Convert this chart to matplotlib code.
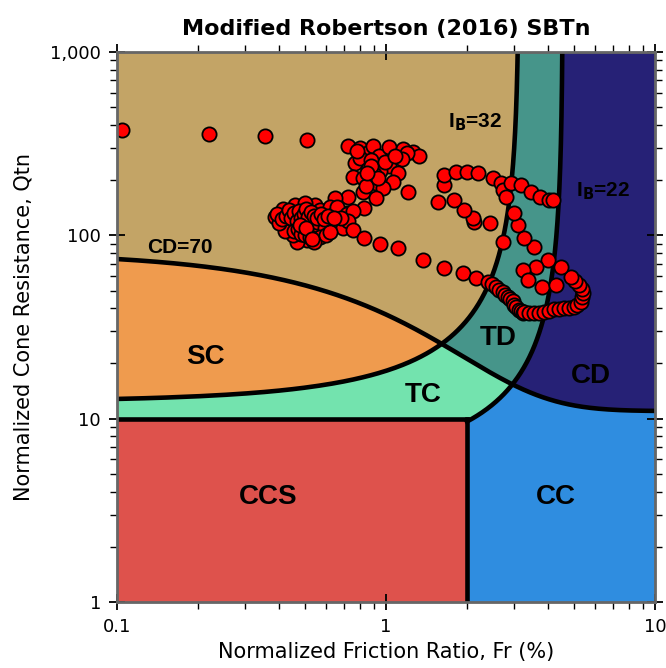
import numpy as np
import matplotlib.pyplot as plt
from matplotlib.colors import ListedColormap
from matplotlib.ticker import FuncFormatter, LogLocator, NullFormatter

# ----------------------------------------------------------------
# Chart boundaries (Robertson 2016)

ib_upper = 32      # sand-like / transitional
ib_lower = 22      # transitional / clay-like
cd_limit = 70      # contractive / dilative
q_ccs = 10         # top of sensitive zone
fr_ccs = 2.0       # sensitive / contractive clay split

zone_names = ['SD', 'SC', 'TD', 'TC', 'CD', 'CC', 'CCS']
zone_colors = ['#c3a466', '#ef9b4e', '#46958a', '#73e3ae', '#262176', '#2f8de0', '#de524c']

# ----------------------------------------------------------------
# CPT data, normalized friction ratio (%) and cone resistance

fr = [0.104, 0.220, 0.356, 0.510,
      0.725, 0.797, 0.861, 0.898, 0.938, 1.022, 1.152, 1.256, 1.321, 1.200,
      0.770, 0.800, 0.880, 1.022, 1.150, 1.104, 1.066, 1.203, 0.860, 0.950,
      0.900, 0.757, 0.818, 0.876, 0.914, 0.971, 0.818, 0.914, 0.825, 0.725,
      0.648, 0.719, 0.637, 0.840, 0.880, 0.930, 0.990, 1.080, 0.780, 0.850,
      0.405, 0.388, 0.415, 0.430, 0.441, 0.452, 0.441, 0.460, 0.468, 0.472,
      0.480, 0.493, 0.493, 0.510, 0.510, 0.523, 0.535, 0.546, 0.555, 0.570,
      0.585, 0.595, 0.570, 0.621, 0.630, 0.648, 0.660, 0.690, 0.719, 0.757,
      0.725, 0.468, 0.452, 0.430, 0.500, 0.540, 0.600, 0.620, 0.680, 0.420,
      0.400, 0.395, 0.410, 0.425, 0.435, 0.445, 0.455, 0.465, 0.475, 0.485,
      0.495, 0.505, 0.515, 0.525, 0.540, 0.555, 0.575, 0.590, 0.610, 0.640,
      0.455, 0.470, 0.485, 0.500, 0.520, 0.480, 0.505, 0.530,
      0.757, 0.825, 0.946, 1.104, 1.368, 1.637, 1.927, 2.154, 2.388, 2.470,
      2.558, 2.640, 2.716, 2.780, 2.835, 2.900, 2.960, 2.985, 3.050, 3.116,
      3.170, 3.225, 3.253, 3.400, 3.543, 3.700, 3.861, 4.030, 4.206, 4.390,
      4.583, 4.780, 4.994, 5.150, 5.303, 5.360, 5.395, 5.330, 5.213, 5.050,
      4.867, 4.467, 3.995, 3.543, 3.253, 3.089, 2.985,
      3.604, 3.225, 3.365, 3.795, 4.279,
      2.716, 2.430, 2.118, 2.100, 1.944, 1.784, 1.555, 1.637, 1.637, 1.815,
      1.995, 2.191, 2.493, 2.670, 2.716, 2.787, 2.909, 3.170, 3.453, 3.730,
      4.030, 4.171]
qtn = [375, 357, 348, 333,
       307, 299, 285, 307, 271, 303, 296, 285, 271, 282,
       248, 265, 258, 239, 262, 219, 195, 172, 230, 225,
       215, 208, 205, 200, 193, 181, 172, 160, 141, 162,
       160, 132, 118, 185, 240, 205, 250, 270, 290, 220,
       132, 126, 140, 121, 135, 118, 110, 146, 128, 103,
       98, 114, 140, 121, 94, 132, 105, 146, 118, 138,
       126, 110, 98, 143, 118, 132, 143, 110, 130, 136,
       120, 92, 100, 112, 150, 92, 100, 104, 124, 105,
       116, 130, 122, 128, 138, 125, 132, 120, 136, 124,
       130, 140, 126, 134, 128, 124, 130, 122, 128, 124,
       106, 108, 102, 100, 98, 114, 110, 96]
qtn += [107, 97, 90, 85, 73, 66, 62, 58.5, 55.6, 54,
        52.2, 50.5, 49.1, 47.5, 46.1, 45, 43.8, 41.6, 40.5, 39.1,
        38.5, 37.7, 38.2, 37.8, 37.7, 37.9, 38.2, 38.8, 39.6, 39.8,
        40.1, 40.3, 40.6, 41.5, 43.3, 45.8, 48.4, 51, 53.6, 56.5,
        59.2, 67.2, 73.3, 86.3, 96.7, 114, 132,
        67.2, 64.7, 57.0, 52.2, 53.6,
        92, 117, 118, 124, 137, 156, 152, 188, 213, 221,
        221, 219, 205, 193, 177, 162, 193, 188, 172, 162,
        156, 156]


def ib_fr(q, ib):
    # friction ratio on an I_B contour for a given Qtn
    return (100.0*(q+10.0)/ib - 70.0)/q


def ib_q(f, ib):
    return (1000.0 - 70.0*ib)/(ib*f - 100.0)


def cd_q(f):
    return 11.0 + cd_limit/(1.0 + 0.06*f)**17


# ----------------------------------------------------------------
# Zone map

f_edges = np.logspace(-1, 1, 1201)
q_edges = np.logspace(0, 3, 1201)
fc = np.sqrt(f_edges[:-1]*f_edges[1:])
qc = np.sqrt(q_edges[:-1]*q_edges[1:])
F, Q = np.meshgrid(fc, qc)
IB = 100.0*(Q+10.0)/(Q*F+70.0)
CD = (Q-11.0)*(1.0+0.06*F)**17
dil = CD >= cd_limit
zone = np.where(dil,
                np.where(IB > ib_upper, 0, np.where(IB >= ib_lower, 2, 4)),
                np.where(IB > ib_upper, 1, np.where(IB >= ib_lower, 3, 5)))
zone[(Q < q_ccs) & (F < fr_ccs)] = 6
zone[(Q < q_ccs) & (F >= fr_ccs)] = 5

fig = plt.figure(figsize=(6.66, 6.68), dpi=100)
fig.set_facecolor('white')
ax = fig.add_axes([0.1757, 0.0988, 0.8078, 0.8234])
ax.set_xscale('log')
ax.set_yscale('log')
ax.pcolormesh(f_edges, q_edges, zone, cmap=ListedColormap(zone_colors),
              vmin=-0.5, vmax=6.5, shading='flat', antialiased=False, zorder=1)

# boundary lines
lw = 3.3
fl = np.logspace(-1, 1, 500)
ax.plot(fl, cd_q(fl), color='black', lw=lw, zorder=3)
q32 = np.logspace(np.log10(ib_q(0.1, ib_upper)), 3, 500)
ax.plot(ib_fr(q32, ib_upper), q32, color='black', lw=lw, zorder=3)
q22 = np.logspace(np.log10(ib_q(fr_ccs, ib_lower)), 3, 500)
ax.plot(ib_fr(q22, ib_lower), q22, color='black', lw=lw, zorder=3)
ax.plot([0.1, fr_ccs], [q_ccs, q_ccs], color='black', lw=lw, zorder=3)
ax.plot([fr_ccs, fr_ccs], [1, q_ccs], color='black', lw=lw, zorder=3)

# data
ax.scatter(fr, qtn, s=105, facecolor='#ff0000', edgecolor='black',
           linewidth=1.3, zorder=5)

# zone labels
big = dict(family='Liberation Sans', fontweight='bold', fontsize=20,
           ha='center', va='center', zorder=6)
ax.text(0.213, 21.7, 'SC', **big)
ax.text(1.38, 13.5, 'TC', **big)
ax.text(2.62, 27.5, 'TD', **big)
ax.text(5.78, 17.1, 'CD', **big)
ax.text(0.365, 3.73, 'CCS', **big)
ax.text(4.28, 3.73, 'CC', **big)
small = dict(family='Liberation Sans', fontweight='bold', fontsize=15,
             ha='center', va='center', zorder=6)
ax.text(0.172, 86.3, 'CD=70', **small)
ax.text(2.14, 415, r'I$_\mathbf{B}$=32', **small)
ax.text(6.4, 175, r'I$_\mathbf{B}$=22', **small)

ax.set_xlim(0.1, 10)
ax.set_ylim(1, 1000)
ax.xaxis.set_major_locator(LogLocator(base=10))
ax.yaxis.set_major_locator(LogLocator(base=10))
ax.xaxis.set_minor_locator(LogLocator(base=10, subs=np.arange(2, 10)))
ax.yaxis.set_minor_locator(LogLocator(base=10, subs=np.arange(2, 10)))
ax.xaxis.set_minor_formatter(NullFormatter())
ax.yaxis.set_minor_formatter(NullFormatter())
ax.xaxis.set_major_formatter(FuncFormatter(lambda v, p: '{:g}'.format(v)))
ax.yaxis.set_major_formatter(FuncFormatter(lambda v, p: '{:,.0f}'.format(v)))
ax.tick_params(which='major', direction='inout', length=11, width=1.3,
               top=True, right=True, labelsize=13, pad=6)
ax.tick_params(which='minor', direction='out', length=5, width=1.0,
               top=True, right=True)
for s in ax.spines.values():
    s.set_color('#666666')
    s.set_linewidth(2)
    s.set_zorder(7)

ax.set_xlabel('Normalized Friction Ratio, Fr (%)', fontsize=15, labelpad=4)
ax.set_ylabel('Normalized Cone Resistance, Qtn', fontsize=15, labelpad=12)
ax.set_title('Modified Robertson (2016) SBTn', fontsize=16, fontweight='bold',
             pad=12)

fig.savefig('out.png', dpi=100)
